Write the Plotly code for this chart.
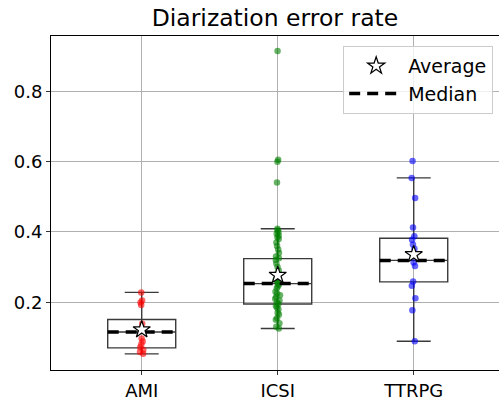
import plotly.graph_objects as go

categories = ["AMI", "ICSI", "TTRPG"]
positions = [1, 2, 3]
colors = ["rgba(255,0,0,0.6)", "rgba(0,128,0,0.6)", "rgba(0,0,255,0.6)"]

ami_points = [0.228, 0.205, 0.199, 0.192, 0.139, 0.097, 0.088, 0.080, 0.072, 0.065, 0.058, 0.053]
icsi_points = [0.125, 0.13, 0.14, 0.15, 0.155, 0.165, 0.17, 0.18, 0.185, 0.19, 0.195, 0.20,
               0.205, 0.21, 0.215, 0.22, 0.225, 0.23, 0.24, 0.245, 0.25, 0.255, 0.26, 0.265,
               0.27, 0.28, 0.29, 0.30, 0.31, 0.32, 0.325, 0.33, 0.34, 0.35, 0.36, 0.37, 0.38,
               0.385, 0.39, 0.395, 0.40, 0.405, 0.409, 0.541, 0.600, 0.606, 0.915]
ttrpg_points = [0.602, 0.554, 0.497, 0.413, 0.388, 0.378, 0.364, 0.352, 0.313, 0.303,
                0.259, 0.247, 0.211, 0.177, 0.089]
points = [ami_points, icsi_points, ttrpg_points]

q1 = [0.070, 0.195, 0.258]
median = [0.115, 0.253, 0.319]
q3 = [0.151, 0.324, 0.382]
lower_fence = [0.053, 0.125, 0.089]
upper_fence = [0.228, 0.409, 0.554]
mean = [0.122, 0.277, 0.336]

y_ticks = [0.2, 0.4, 0.6, 0.8]

BOX_W = 0.5
fig = go.Figure()

# boxes
fig.add_trace(go.Box(
    x=positions, q1=q1, median=median, q3=q3,
    lowerfence=lower_fence, upperfence=upper_fence,
    width=BOX_W, whiskerwidth=0.5, boxpoints=False,
    line=dict(color="#3a3a3a", width=1.4), fillcolor="rgba(255,255,255,0)",
    showlegend=False, hoverinfo="skip",
))

# jittered points
for pos, pts, col in zip(positions, points, colors):
    fig.add_trace(go.Box(
        y=pts, x0=pos, width=BOX_W, boxpoints="all", jitter=0.08, pointpos=0,
        line=dict(width=0, color="rgba(0,0,0,0)"), fillcolor="rgba(0,0,0,0)",
        marker=dict(color=col, size=6.5), showlegend=False, hoverinfo="skip",
    ))

# medians
mx, my = [], []
for pos, m in zip(positions, median):
    mx += [pos - BOX_W / 2, pos + BOX_W / 2, None]
    my += [m, m, None]
fig.add_trace(go.Scatter(
    x=mx, y=my, mode="lines", name="Median",
    line=dict(color="black", width=3.5, dash="11px,7px"),
))

# averages
fig.add_trace(go.Scatter(
    x=positions, y=mean, mode="markers", name="Average",
    marker=dict(symbol="star", size=13, color="white", line=dict(color="black", width=1.2)),
))

fig.update_layout(
    width=499, height=401,
    margin=dict(l=51, r=0, t=36, b=29),
    paper_bgcolor="white", plot_bgcolor="white",
    font=dict(family="DejaVu Sans", size=18, color="black"),
    title=dict(text="Diarization error rate", x=0.551, xanchor="center", y=0.955, yanchor="middle",
               font=dict(size=23.5)),
    boxmode="overlay",
    showlegend=True,
    legend=dict(
        x=0.987, xanchor="right", y=0.97, yanchor="top",
        bgcolor="rgba(255,255,255,0.8)", bordercolor="#cccccc", borderwidth=1,
        font=dict(size=19), traceorder="reversed", itemwidth=54,
    ),
    xaxis=dict(
        range=[0.333, 3.627], tickvals=positions, ticktext=categories,
        showgrid=True, gridcolor="#b0b0b0", gridwidth=0.8,
        showline=True, linecolor="black", linewidth=1, mirror=True,
        ticks="outside", ticklen=4, tickcolor="#333", zeroline=False,
    ),
    yaxis=dict(
        range=[0.007, 0.958], tickvals=y_ticks, tickformat=".1f",
        showgrid=True, gridcolor="#b0b0b0", gridwidth=0.8,
        showline=True, linecolor="black", linewidth=1,
        ticks="outside", ticklen=4, tickcolor="#333", zeroline=False,
    ),
)

fig.write_html("out.html", config={"displayModeBar": False},
               post_script="document.body.style.margin='0';document.body.style.overflow='hidden';")
